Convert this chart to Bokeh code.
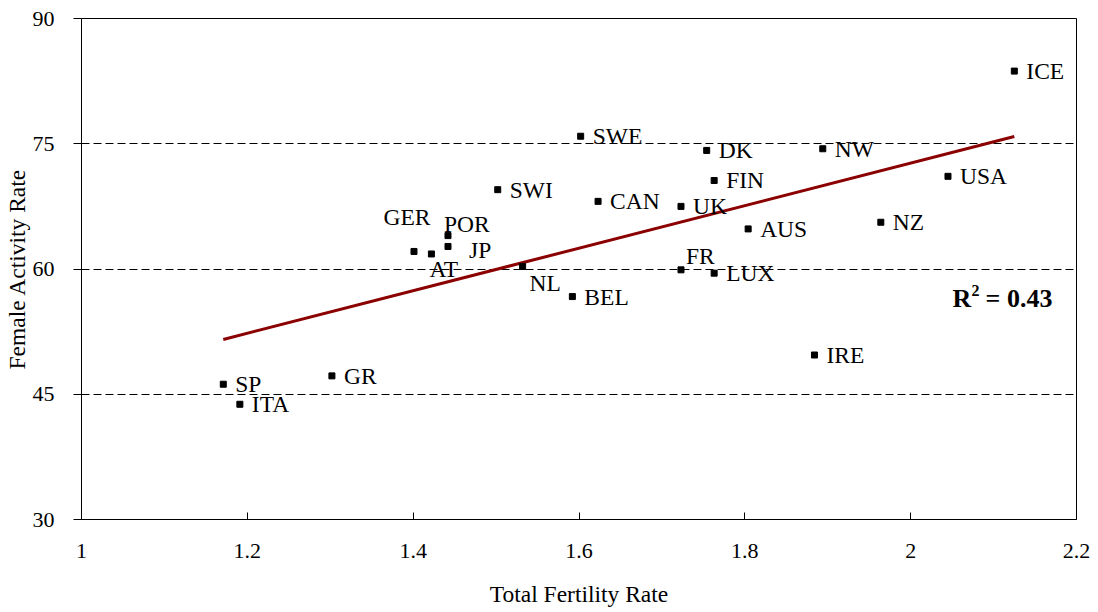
import numpy as np
from bokeh.plotting import figure
from bokeh.models import ColumnDataSource, Range1d, FixedTicker, Label
from bokeh.core.properties import value
from bokeh.embed import file_html
from bokeh.resources import INLINE

# ---- data ----
countries = ["ICE", "SWE", "DK", "NW", "FIN", "USA", "SWI", "CAN", "UK", "AUS", "NZ",
             "POR", "JP", "GER", "AT", "NL", "FR", "LUX", "BEL", "IRE", "SP", "GR", "ITA"]
fertility = [2.125, 1.602, 1.754, 1.894, 1.763, 2.045, 1.502, 1.623, 1.723, 1.804, 1.964,
             1.442, 1.442, 1.401, 1.422, 1.532, 1.723, 1.763, 1.592, 1.884, 1.171, 1.302, 1.191]
activity = [83.7, 75.9, 74.2, 74.4, 70.6, 71.1, 69.5, 68.1, 67.5, 64.8, 65.6,
            64.0, 62.7, 62.1, 61.8, 60.3, 59.9, 59.5, 56.7, 49.7, 46.2, 47.2, 43.8]
x_ticks = [1, 1.2, 1.4, 1.6, 1.8, 2, 2.2]
x_tick_labels = ["1", "1.2", "1.4", "1.6", "1.8", "2", "2.2"]
y_ticks = [30, 45, 60, 75, 90]
y_tick_labels = ["30", "45", "60", "75", "90"]
r2_value = "0.43"

FONT = "Liberation Serif"

# label placement (screen px): default to the right of the point
default_off = (12, 0, "left")
special_off = {
    "GER": (-7, -34, "center"),
    "POR": (-4, -12, "left"),
    "JP": (21, 4, "left"),
    "AT": (-2, 15, "left"),
    "NL": (7, 17, "left"),
    "FR": (5, -14, "left"),
}
xo, yo, al = [], [], []
for c in countries:
    a, b, g = special_off.get(c, default_off)
    xo.append(a); yo.append(b); al.append(g)

src = ColumnDataSource(dict(x=fertility, y=activity, name=countries,
                            xo=xo, yo=yo, al=al))

p = figure(width=1090, height=609, output_backend="svg", toolbar_location=None,
           x_range=Range1d(1, 2.2), y_range=Range1d(30, 90),
           min_border_left=80, min_border_right=14, min_border_top=18,
           min_border_bottom=90)
p.background_fill_color = "white"
p.border_fill_color = "white"
p.outline_line_color = "black"
p.outline_line_width = 1

# axes
p.xaxis.ticker = FixedTicker(ticks=x_ticks)
p.yaxis.ticker = FixedTicker(ticks=y_ticks)
p.xaxis.major_label_overrides = dict(zip(x_ticks, x_tick_labels))
p.yaxis.major_label_overrides = dict(zip(y_ticks, y_tick_labels))
for ax in (p.xaxis, p.yaxis):
    ax.axis_line_color = "black"
    ax.major_tick_line_color = "black"
    ax.minor_tick_line_color = None
    ax.major_label_text_font = FONT
    ax.major_label_text_font_size = "22px"
    ax.major_label_text_color = "black"
    ax.axis_label_text_font = FONT
    ax.axis_label_text_font_size = "23.5px"
    ax.axis_label_text_font_style = "normal"
    ax.axis_label_text_color = "black"
p.xaxis.major_tick_in = 7
p.xaxis.major_tick_out = 0
p.yaxis.major_tick_in = 0
p.yaxis.major_tick_out = 8
p.xaxis.major_label_standoff = 24
p.yaxis.major_label_standoff = 19
p.xaxis.axis_label_standoff = 20
p.yaxis.axis_label_standoff = 0
p.xaxis.axis_label = "Total Fertility Rate"
p.yaxis.axis_label = "Female Activity Rate"

# grid
p.xgrid.visible = False
p.ygrid.ticker = FixedTicker(ticks=y_ticks)
p.ygrid.grid_line_color = "black"
p.ygrid.grid_line_dash = "8 4"
p.ygrid.grid_line_width = 1

# trend line (least squares fit)
slope, intercept = np.polyfit(fertility, activity, 1)
tx = [min(fertility), max(fertility)]
ty = [slope * v + intercept for v in tx]
p.line(tx, ty, line_color="#8B0000", line_width=3)

# points
p.scatter("x", "y", source=src, marker="square", size=6,
          fill_color="black", line_color="black")

# labels
p.text("x", "y", text="name", source=src, x_offset="xo", y_offset="yo",
       text_align="al", text_baseline="middle",
       text_font=value(FONT), text_font_size="23.5px", text_color="black")

# R^2 annotation built from pieces (R, superscript 2, value)
r2x, r2y = 2.0506, 56.47
p.add_layout(Label(x=r2x, y=r2y, text="R", text_font=FONT,
                   text_font_size="26px", text_font_style="bold",
                   text_baseline="middle", text_color="black"))
p.add_layout(Label(x=r2x, y=r2y, x_offset=19, y_offset=8, text="2", text_font=FONT,
                   text_font_size="16px", text_font_style="bold",
                   text_baseline="middle", text_color="black"))
p.add_layout(Label(x=r2x, y=r2y, x_offset=33, text="= " + r2_value, text_font=FONT,
                   text_font_size="26px", text_font_style="bold",
                   text_baseline="middle", text_color="black"))

open("out.html", "w").write(file_html(p, INLINE))
